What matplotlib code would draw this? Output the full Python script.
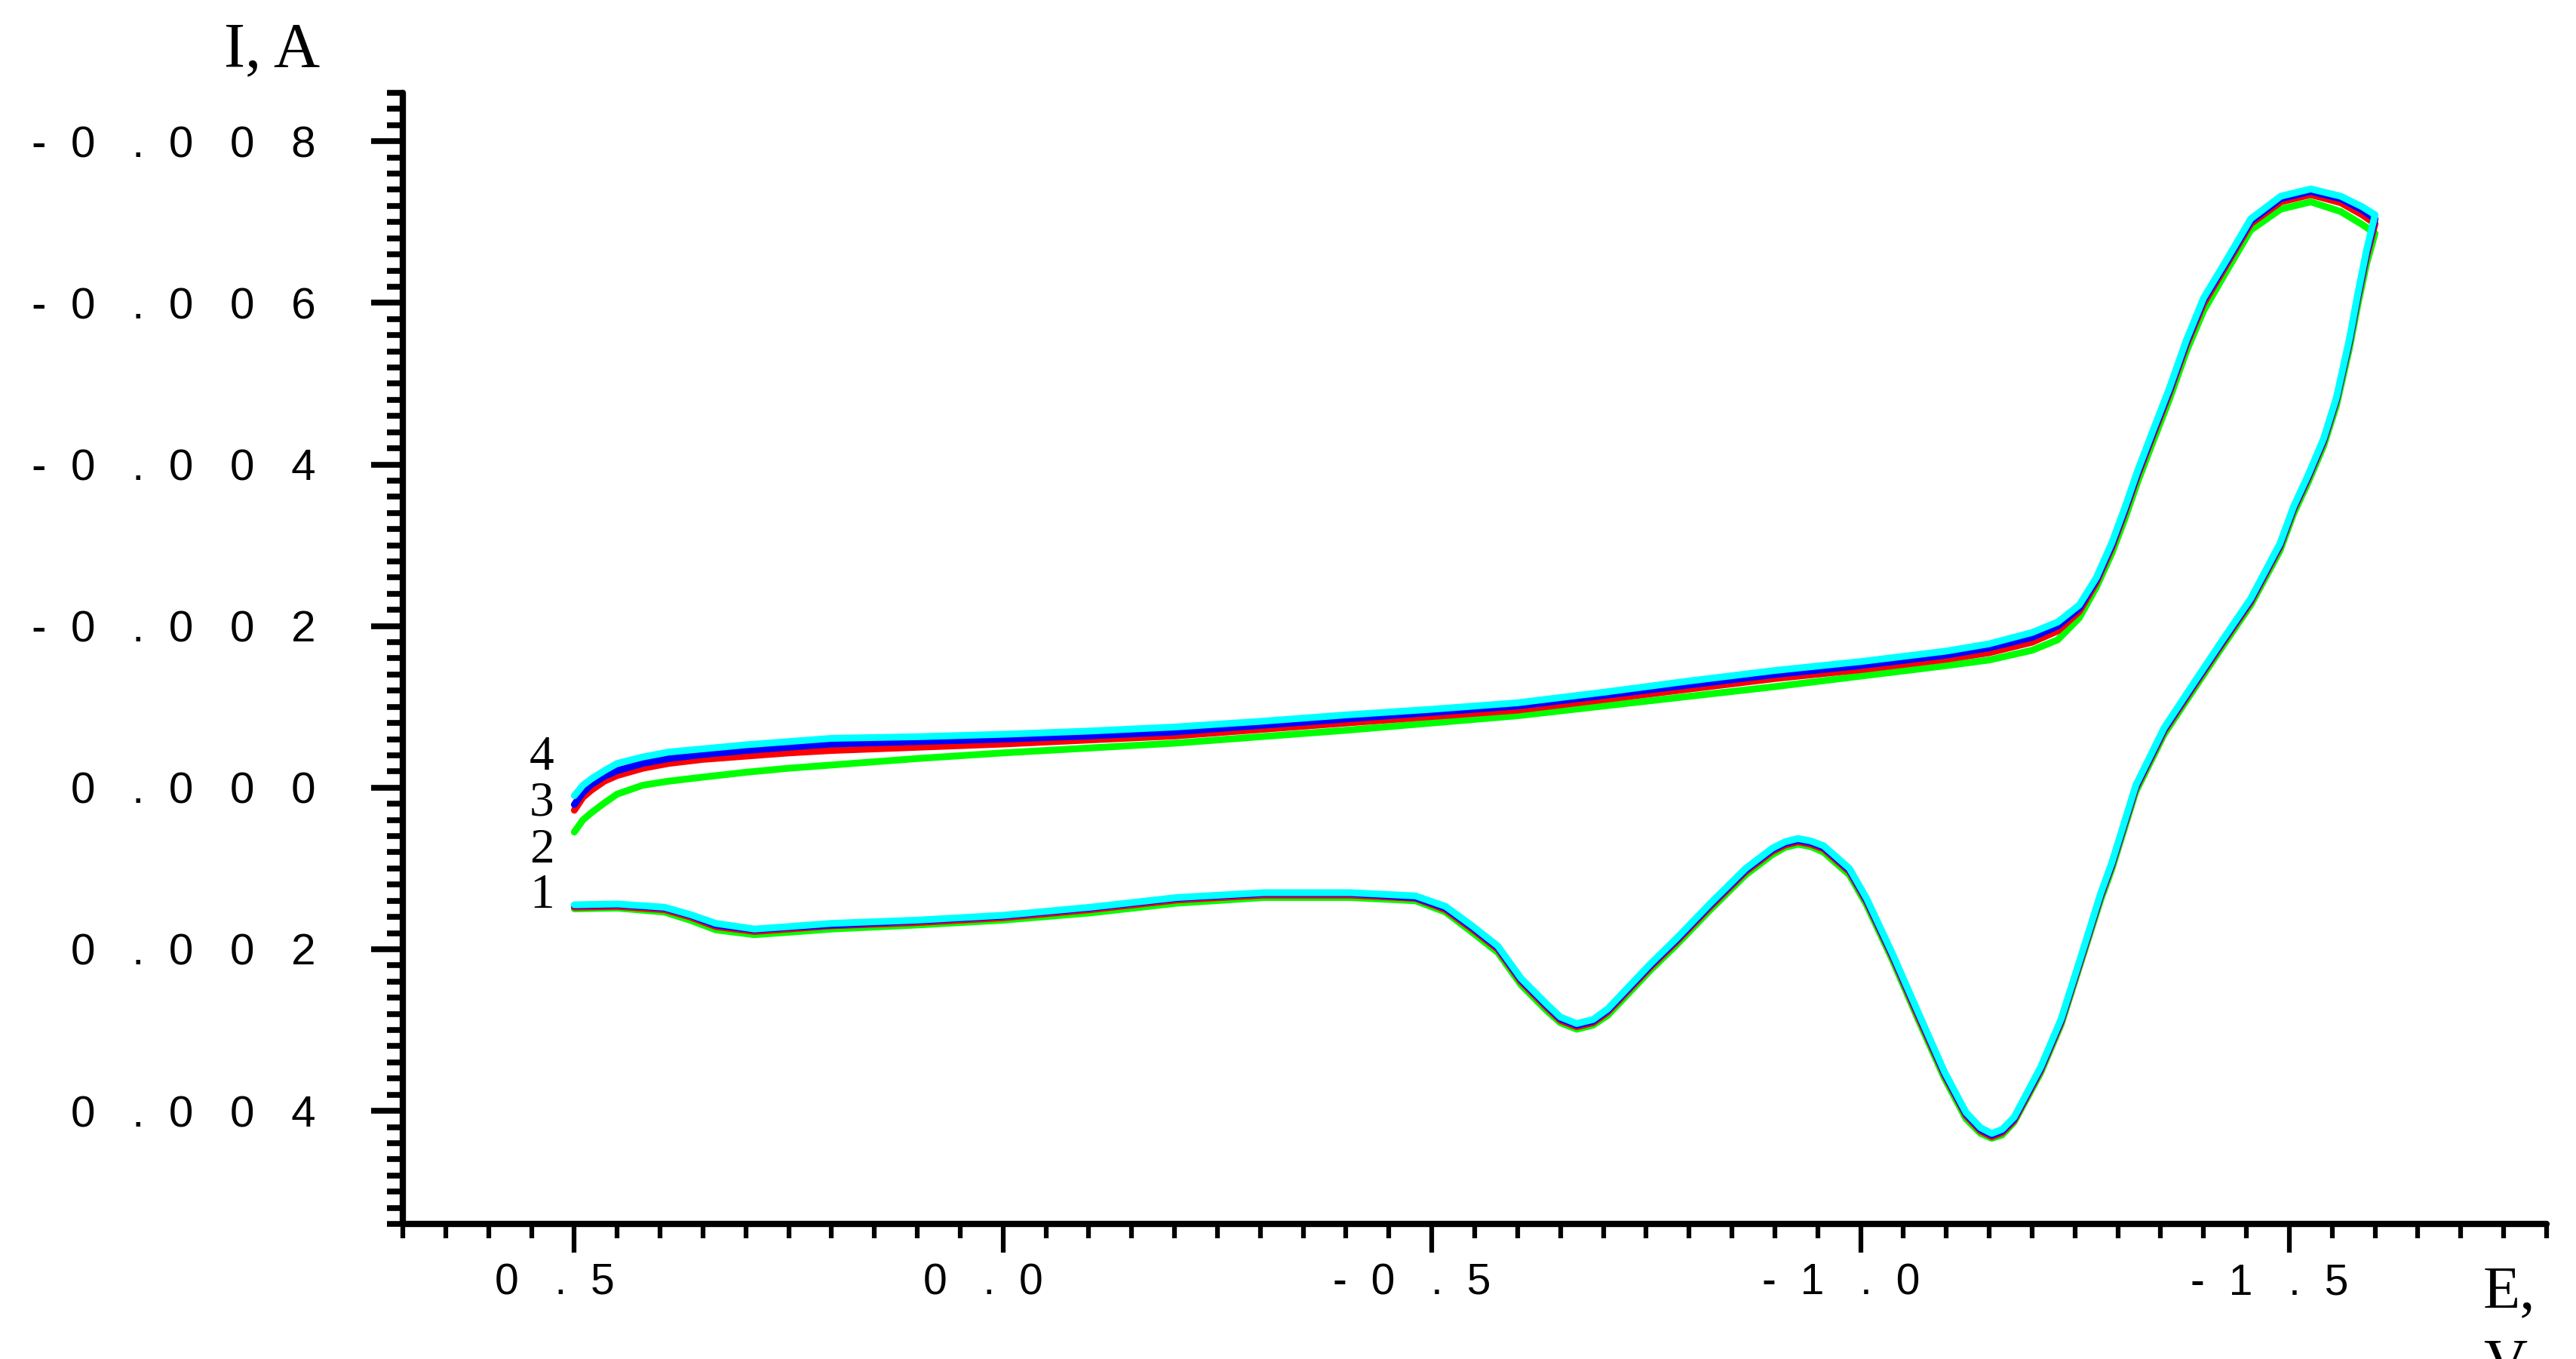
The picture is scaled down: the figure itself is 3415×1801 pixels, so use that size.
import matplotlib
matplotlib.use("Agg")
import matplotlib.pyplot as plt
from matplotlib.ticker import MultipleLocator
import matplotlib.transforms as mtransforms

# ---------------- data ----------------
# forward scan (upper branch): from 0.5 V to -1.6 V
E_fwd = [0.500, 0.490, 0.480, 0.465, 0.450, 0.420, 0.390, 0.350, 0.300, 0.250,
         0.200, 0.100, 0.000, -0.100, -0.200, -0.300, -0.400, -0.500, -0.600, -0.700,
         -0.800, -0.900, -1.000, -1.100, -1.150, -1.200, -1.230, -1.255, -1.275, -1.293,
         -1.308, -1.323, -1.341, -1.360, -1.380, -1.400, -1.425, -1.455, -1.490, -1.525,
         -1.560, -1.585, -1.600]

I1_fwd = [0.00055, 0.00040, 0.00031, 0.00019, 0.00008, -0.00003, -0.00008, -0.00013, -0.00019, -0.00024,
          -0.00028, -0.00036, -0.00043, -0.00049, -0.00055, -0.00063, -0.00071, -0.00080, -0.00089, -0.00101,
          -0.00113, -0.00125, -0.00138, -0.00151, -0.00158, -0.00170, -0.00183, -0.00210, -0.00248, -0.00290,
          -0.00332, -0.00378, -0.00428, -0.00480, -0.00540, -0.00590, -0.00636, -0.00690, -0.00716, -0.00725,
          -0.00713, -0.00697, -0.00686]
I2_fwd = [0.00028, 0.00012, 0.00003, -0.00008, -0.00015, -0.00024, -0.00030, -0.00035, -0.00039, -0.00043,
          -0.00046, -0.00050, -0.00054, -0.00059, -0.00064, -0.00072, -0.00080, -0.00088, -0.00096, -0.00109,
          -0.00122, -0.00135, -0.00146, -0.00159, -0.00167, -0.00180, -0.00194, -0.00218, -0.00254, -0.00297,
          -0.00340, -0.00386, -0.00436, -0.00488, -0.00548, -0.00599, -0.00644, -0.00698, -0.00725, -0.00734,
          -0.00724, -0.00709, -0.00698]
I3_fwd = [0.00021, 0.00006, -0.00004, -0.00014, -0.00021, -0.00030, -0.00036, -0.00041, -0.00046, -0.00050,
          -0.00054, -0.00057, -0.00060, -0.00064, -0.00069, -0.00077, -0.00085, -0.00093, -0.00101, -0.00114,
          -0.00127, -0.00140, -0.00151, -0.00164, -0.00173, -0.00186, -0.00200, -0.00222, -0.00257, -0.00300,
          -0.00343, -0.00389, -0.00439, -0.00491, -0.00551, -0.00603, -0.00647, -0.00701, -0.00729, -0.00738,
          -0.00729, -0.00715, -0.00704]
I4_fwd = [0.00010, -0.00003, -0.00011, -0.00021, -0.00030, -0.00038, -0.00044, -0.00048, -0.00053, -0.00057,
          -0.00061, -0.00063, -0.00066, -0.00070, -0.00075, -0.00082, -0.00090, -0.00097, -0.00105, -0.00118,
          -0.00132, -0.00145, -0.00156, -0.00169, -0.00178, -0.00192, -0.00205, -0.00226, -0.00260, -0.00303,
          -0.00346, -0.00392, -0.00442, -0.00494, -0.00554, -0.00606, -0.00650, -0.00704, -0.00732, -0.00741,
          -0.00732, -0.00719, -0.00709]

# reverse scan (lower branch): from -1.6 V back to 0.5 V
E_rev = [-1.600, -1.590, -1.580, -1.570, -1.555, -1.540, -1.522, -1.505, -1.489, -1.455,
         -1.421, -1.387, -1.354, -1.321, -1.293, -1.280, -1.260, -1.234, -1.210, -1.179,
         -1.165, -1.153, -1.140, -1.123, -1.098, -1.068, -1.037, -1.007, -0.987, -0.957,
         -0.942, -0.927, -0.912, -0.897, -0.866, -0.825, -0.785, -0.755, -0.730, -0.705,
         -0.688, -0.669, -0.650, -0.634, -0.604, -0.577, -0.547, -0.516, -0.481, -0.405,
         -0.304, -0.203, -0.102, 0.000, 0.100, 0.200, 0.250, 0.290, 0.335, 0.365,
         0.395, 0.450, 0.500]

I1_rev = [-0.00686, -0.00648, -0.00598, -0.00543, -0.00473, -0.00423, -0.00378, -0.00339, -0.00293, -0.00226,
          -0.00173, -0.00119, -0.00066, 0.00005, 0.00101, 0.00139, 0.00206, 0.00293, 0.00353, 0.00414,
          0.00430, 0.00434, 0.00428, 0.00410, 0.00360, 0.00289, 0.00213, 0.00145, 0.00108, 0.00080,
          0.00073, 0.00070, 0.00074, 0.00083, 0.00108, 0.00151, 0.00195, 0.00226, 0.00254, 0.00282,
          0.00294, 0.00299, 0.00291, 0.00276, 0.00244, 0.00204, 0.00179, 0.00154, 0.00140, 0.00136,
          0.00136, 0.00143, 0.00155, 0.00164, 0.00170, 0.00175, 0.00179, 0.00182, 0.00176, 0.00164,
          0.00154, 0.00149, 0.00150]
I2_rev = [-0.00698, -0.00657, -0.00606, -0.00550, -0.00479, -0.00428, -0.00383, -0.00344, -0.00298, -0.00230,
          -0.00177, -0.00123, -0.00070, 0.00001, 0.00097, 0.00135, 0.00203, 0.00290, 0.00350, 0.00412,
          0.00427, 0.00432, 0.00425, 0.00406, 0.00356, 0.00285, 0.00209, 0.00141, 0.00104, 0.00076,
          0.00070, 0.00067, 0.00071, 0.00079, 0.00104, 0.00147, 0.00191, 0.00222, 0.00250, 0.00278,
          0.00291, 0.00296, 0.00288, 0.00272, 0.00240, 0.00200, 0.00175, 0.00151, 0.00137, 0.00133,
          0.00133, 0.00139, 0.00151, 0.00161, 0.00167, 0.00171, 0.00175, 0.00178, 0.00172, 0.00160,
          0.00151, 0.00147, 0.00148]
I3_rev = [-0.00704, -0.00661, -0.00609, -0.00552, -0.00481, -0.00430, -0.00385, -0.00346, -0.00300, -0.00232,
          -0.00179, -0.00125, -0.00072, -0.00001, 0.00095, 0.00133, 0.00201, 0.00288, 0.00348, 0.00410,
          0.00425, 0.00430, 0.00423, 0.00404, 0.00354, 0.00282, 0.00207, 0.00139, 0.00102, 0.00074,
          0.00068, 0.00065, 0.00069, 0.00077, 0.00102, 0.00145, 0.00189, 0.00220, 0.00248, 0.00276,
          0.00289, 0.00294, 0.00286, 0.00270, 0.00238, 0.00198, 0.00173, 0.00149, 0.00136, 0.00131,
          0.00131, 0.00137, 0.00149, 0.00159, 0.00165, 0.00170, 0.00173, 0.00176, 0.00170, 0.00158,
          0.00149, 0.00145, 0.00146]
I4_rev = [-0.00709, -0.00665, -0.00612, -0.00555, -0.00483, -0.00432, -0.00387, -0.00348, -0.00302, -0.00234,
          -0.00181, -0.00127, -0.00074, -0.00003, 0.00093, 0.00131, 0.00199, 0.00286, 0.00346, 0.00408,
          0.00423, 0.00428, 0.00421, 0.00402, 0.00352, 0.00280, 0.00205, 0.00137, 0.00100, 0.00072,
          0.00066, 0.00063, 0.00067, 0.00075, 0.00100, 0.00143, 0.00187, 0.00218, 0.00246, 0.00274,
          0.00287, 0.00292, 0.00284, 0.00268, 0.00236, 0.00196, 0.00171, 0.00147, 0.00134, 0.00130,
          0.00130, 0.00136, 0.00148, 0.00158, 0.00164, 0.00168, 0.00172, 0.00175, 0.00168, 0.00157,
          0.00148, 0.00144, 0.00145]

series_names = ["1", "2", "3", "4"]
series_colors = ["#00ff00", "#ff0000", "#0000ff", "#00ffff"]

x_ticks = [0.5, 0.0, -0.5, -1.0, -1.5]
x_tick_labels = ["0   .  5", "0   .  0", "-  0   .  5", "-  1   .  0", "-  1   .  5"]
y_ticks = [-0.008, -0.006, -0.004, -0.002, 0.000, 0.002, 0.004]
y_tick_labels = ["-  0   .  0   0   8", "-  0   .  0   0   6", "-  0   .  0   0   4",
                 "-  0   .  0   0   2", "0   .  0   0   0", "0   .  0   0   2", "0   .  0   0   4"]

# curve number labels (data coordinates of the baseline)
label_E = [0.538, 0.538, 0.538, 0.538]
label_I = [0.001486, 0.000925, 0.000346, -0.000224]

# ---------------- figure ----------------
fig = plt.figure(figsize=(34.15, 18.01), dpi=100)
ax = fig.add_axes([0.15637, 0.09939, 0.8322, 0.83232])

fwd = [I1_fwd, I2_fwd, I3_fwd, I4_fwd]
rev = [I1_rev, I2_rev, I3_rev, I4_rev]
for If, Ir, col in zip(fwd, rev, series_colors):
    ax.plot(E_fwd + E_rev, If + Ir, color=col, lw=6.5,
            solid_joinstyle="round", solid_capstyle="round", zorder=3)

ax.set_xlim(0.7, -1.8)
ax.set_ylim(0.0054, -0.0086)

for s in ["top", "right"]:
    ax.spines[s].set_visible(False)
for s in ["left", "bottom"]:
    ax.spines[s].set_linewidth(6)
    ax.spines[s].set_capstyle("round")

ax.set_xticks(x_ticks)
ax.set_xticklabels(x_tick_labels, family="Liberation Sans", fontsize=41)
ax.xaxis.set_minor_locator(MultipleLocator(0.05))
ax.set_yticks(y_ticks)
ax.set_yticklabels(y_tick_labels, family="Liberation Sans", fontsize=42)
ax.yaxis.set_minor_locator(MultipleLocator(0.0002))

ax.tick_params(axis="x", which="major", direction="out", length=27, width=4.5, pad=10)
ax.tick_params(axis="x", which="minor", direction="out", length=14, width=4.5)
ax.tick_params(axis="y", which="major", direction="out", length=30, width=5.5, pad=53)
ax.tick_params(axis="y", which="minor", direction="out", length=15, width=5.5)

offset = mtransforms.ScaledTranslation(-0.26, 0, fig.dpi_scale_trans)
for lbl in ax.get_xticklabels():
    lbl.set_transform(lbl.get_transform() + offset)

for name, e, i in zip(series_names, label_E, label_I):
    ax.text(e, i, name, family="Liberation Serif", fontsize=47,
            ha="center", va="baseline", zorder=4)

fig.text(297 / 3415, 1 - 88 / 1801, "I, A", family="Liberation Serif",
         fontsize=61, ha="left", va="baseline")
fig.text(3292 / 3415, 1 - 1733 / 1801, "E,", family="Liberation Serif",
         fontsize=58, ha="left", va="baseline")
# the unit below "E," is cut by the lower edge, as in the reference
fig.text(3292 / 3415, 1 - 1830 / 1801, "V", family="Liberation Serif",
         fontsize=58, ha="left", va="baseline")

fig.savefig("out.png", dpi=100, facecolor="white")
